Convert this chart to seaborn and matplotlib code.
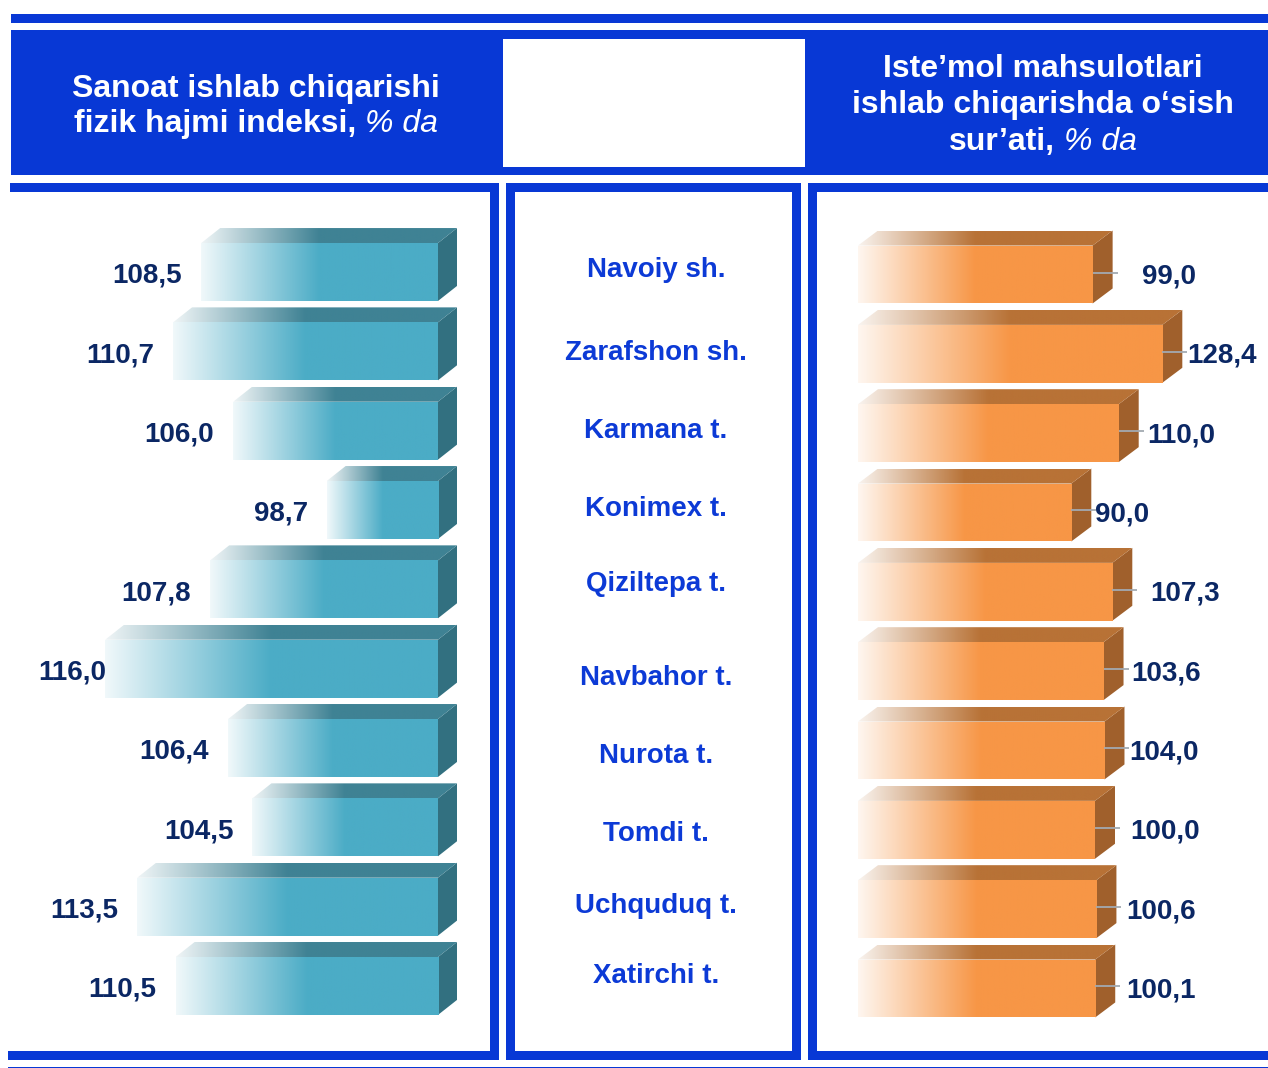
import matplotlib
matplotlib.use("Agg")
import numpy as np
import pandas as pd
import matplotlib.pyplot as plt
import seaborn as sns
from matplotlib.patches import Rectangle, Polygon
from matplotlib.colors import to_rgb

# ---- data -------------------------------------------------------------
districts = ["Navoiy sh.", "Zarafshon sh.", "Karmana t.", "Konimex t.",
             "Qiziltepa t.", "Navbahor t.", "Nurota t.", "Tomdi t.",
             "Uchquduq t.", "Xatirchi t."]
industry_index = [108.5, 110.7, 106.0, 98.7, 107.8, 116.0, 106.4, 104.5, 113.5, 110.5]
consumer_growth = [99.0, 128.4, 110.0, 90.0, 107.3, 103.6, 104.0, 100.0, 100.6, 100.1]

left_title = [[("Sanoat ishlab chiqarishi", "bold", "normal")],
              [("fizik hajmi indeksi,", "bold", "normal"), ("% da", "normal", "italic")]]
right_title = [[("Iste’mol mahsulotlari", "bold", "normal")],
               [("ishlab chiqarishda o‘sish", "bold", "normal")],
               [("sur’ati,", "bold", "normal"), ("% da", "normal", "italic")]]

# ---- style ------------------------------------------------------------
W, H = 1268, 1068
BLUE = "#0838D5"
NAVY = "#0B2764"
NAME_BLUE = "#0C3AD6"
TEAL = dict(front="#4BACC6", top="#3F8294", side="#327080")
ORANGE = dict(front="#F79646", top="#B87236", side="#A0602C")
EM = 100 / 72  # pixels per point
VALUE_SIZE = 20

sns.set_theme(style="white")
plt.rcParams["font.family"] = ["Liberation Sans", "DejaVu Sans"]

fig = plt.figure(figsize=(W / 100, H / 100), dpi=100)
fig.patch.set_facecolor("white")


def px_axes(x0, y0, x1, y1, z):
    ax = fig.add_axes([x0 / W, 1 - y1 / H, (x1 - x0) / W, (y1 - y0) / H], zorder=z)
    ax.set_axis_off()
    ax.patch.set_alpha(0)
    return ax


# overlay in pixel coordinates (y downwards) for frames, faces and text
ov = px_axes(0, 0, W, H, 5)
ov.set_xlim(0, W)
ov.set_ylim(H, 0)
ov.set_autoscale_on(False)

# ---- frames -----------------------------------------------------------
blue_rects = [
    (11, 14, 1268, 23),      # top rule
    (11, 30, 1268, 175),     # header band
    (10, 183, 499, 192),     # left panel: top
    (490, 183, 499, 1060),   # left panel: right
    (8, 1051, 499, 1060),    # left panel: bottom
    (506, 183, 801, 1060),   # middle panel outline
    (808, 183, 817, 1060),   # right panel: left
    (808, 183, 1268, 192),   # right panel: top
    (808, 1051, 1268, 1060), # right panel: bottom
    (8, 1066.5, 1268, 1068), # bottom rule
]
white_rects = [
    (503, 39, 805, 167),     # header gap above district names
    (515, 192, 792, 1051),   # middle panel inside
]
for x0, y0, x1, y1 in blue_rects:
    ov.add_patch(Rectangle((x0, y0), x1 - x0, y1 - y0, fc=BLUE, ec="none", zorder=1))
for x0, y0, x1, y1 in white_rects:
    ov.add_patch(Rectangle((x0, y0), x1 - x0, y1 - y0, fc="white", ec="none", zorder=1.1))

# ---- bar panels -------------------------------------------------------
PITCH = 79.33      # px between rows
BAR_W = 0.73


def row_limits(first_center, top_px, height_px):
    return ((top_px + height_px - first_center) / PITCH, (top_px - first_center) / PITCH)


axL = px_axes(29, 192, 490, 1051, 1)
axR = px_axes(817, 192, 1268, 1051, 1)

dfL = pd.DataFrame({"district": districts, "value": industry_index})
dfR = pd.DataFrame({"district": districts, "value": consumer_growth})

sns.barplot(data=dfL, x="value", y="district", orient="h", color=TEAL["front"],
            saturation=1, width=BAR_W, ax=axL)
sns.barplot(data=dfR, x="value", y="district", orient="h", color=ORANGE["front"],
            saturation=1, width=BAR_W, ax=axR)

# left panel: index bars rise leftwards from a base of 90
BASE_L, SCALE_L, EDGE_L = 90.0, 12.8, 438
for p, v in zip(axL.patches, industry_index):
    p.set_x(BASE_L)
    p.set_width(v - BASE_L)
axL.set_xlim(BASE_L + (EDGE_L - 29) / SCALE_L, BASE_L - (490 - EDGE_L) / SCALE_L)
axL.set_ylim(*row_limits(272, 192, 859))

# right panel: growth bars from zero
ZERO_R, SCALE_R = 858, 2.37
axR.set_xlim((817 - ZERO_R) / SCALE_R, (1268 - ZERO_R) / SCALE_R)
axR.set_ylim(*row_limits(274.5, 192, 859))
for ax in (axL, axR):
    ax.set_axis_off()


def fade(color, n, full_frac, start_white=0.92):
    c = np.array(to_rgb(color))
    t = np.linspace(0, 1, n)
    f = np.clip(t / full_frac, 0, 1)
    w = start_white * (1 - f)
    rgb = c[None, :] * (1 - w[:, None]) + w[:, None]
    return rgb[None, :, :]


def bar_box(ax, p):
    """Bar rectangle in overlay pixels: left, right, top, bottom."""
    pts = ax.transData.transform([[p.get_x(), p.get_y()],
                                  [p.get_x() + p.get_width(), p.get_y() + p.get_height()]])
    xl, xr = sorted(pts[:, 0])
    yu = sorted(pts[:, 1])
    return xl, xr, H - yu[1], H - yu[0]


def draw_block(xl, xr, yt, yb, cols, dx, dy):
    ov.add_patch(Polygon([(xr, yt), (xr + dx, yt - dy), (xr + dx, yb - dy), (xr, yb)],
                         closed=True, fc=cols["side"], ec="none", zorder=2))
    top = Polygon([(xl, yt), (xr, yt), (xr + dx, yt - dy), (xl + dx, yt - dy)],
                  closed=True, fc="none", ec="none", zorder=2)
    ov.add_patch(top)
    span = xr + dx - xl
    im = ov.imshow(fade(cols["top"], 400, 0.5 * (xr - xl) / span),
                   extent=(xl, xr + dx, yt, yt - dy), aspect="auto", zorder=2)
    im.set_clip_path(top)
    front = Rectangle((xl, yt), xr - xl, yb - yt, fc="none", ec="none", zorder=2)
    ov.add_patch(front)
    im2 = ov.imshow(fade(cols["front"], 400, 0.5),
                    extent=(xl, xr, yb, yt), aspect="auto", zorder=2)
    im2.set_clip_path(front)


def cap_text(x, yc, s, size, **kw):
    return ov.text(x, yc + 0.358 * size * EM, s, fontsize=size, va="baseline", **kw)


def fmt(v):
    return f"{v:.1f}".replace(".", ",")


renderer = fig.canvas.get_renderer()

# left bars + values
left_centers = []
for p, v in zip(axL.patches, industry_index):
    p.set_facecolor("none")
    p.set_edgecolor("none")
    xl, xr, yt, yb = bar_box(axL, p)
    draw_block(xl, xr, yt, yb, TEAL, 19, 15)
    yc = (yt + yb) / 2
    left_centers.append(yc)
    t = cap_text(xl - 19, yc + 1, fmt(v), VALUE_SIZE, color=NAVY, fontweight="bold",
                 ha="right", zorder=4)
    if t.get_window_extent(renderer).x0 < 38:
        t.set_ha("left")
        t.set_x(38)

# right bars + values with leader ticks
value_gap_px = [29, 5, 9, 4, 18, 8, 5, 15, 10, 11]
for p, v, gap in zip(axR.patches, consumer_growth, value_gap_px):
    p.set_facecolor("none")
    p.set_edgecolor("none")
    xl, xr, yt, yb = bar_box(axR, p)
    draw_block(xl, xr, yt, yb, ORANGE, 20, 15)
    yc = (yt + yb) / 2
    ov.plot([xr, xr + 25], [yc - 2, yc - 2], color="#A3AAB1", lw=1.3, zorder=3,
            solid_capstyle="butt")
    cap_text(xr + 20 + gap, yc - 1, fmt(v), VALUE_SIZE, color=NAVY, fontweight="bold",
             ha="left", zorder=4)

# district names in the middle panel
name_nudge_px = [-5, -1, -3, -4, -8, 6, 5, 4, -4, -13]
for name, yc, dy in zip(districts, left_centers, name_nudge_px):
    cap_text(656, yc + dy, name, 20, color=NAME_BLUE, fontweight="bold", ha="center", zorder=4)


# ---- header titles ----------------------------------------------------
def title_line(cx, yc, parts, size=23):
    texts = [cap_text(0, yc, s, size, color="white", fontweight=w, fontstyle=st,
                      ha="left", zorder=4) for s, w, st in parts]
    widths = [t.get_window_extent(renderer).width for t in texts]
    gap = 0.278 * size * EM
    x = cx - (sum(widths) + gap * (len(texts) - 1)) / 2
    for t, w in zip(texts, widths):
        t.set_x(x)
        x += w + gap


for parts, yc in zip(left_title, [86, 121]):
    title_line(256, yc, parts)
for parts, yc in zip(right_title, [65.5, 102, 139]):
    title_line(1043, yc, parts)

ov.set_xlim(0, W)
ov.set_ylim(H, 0)

fig.savefig("out.png", dpi=100, facecolor="white")
